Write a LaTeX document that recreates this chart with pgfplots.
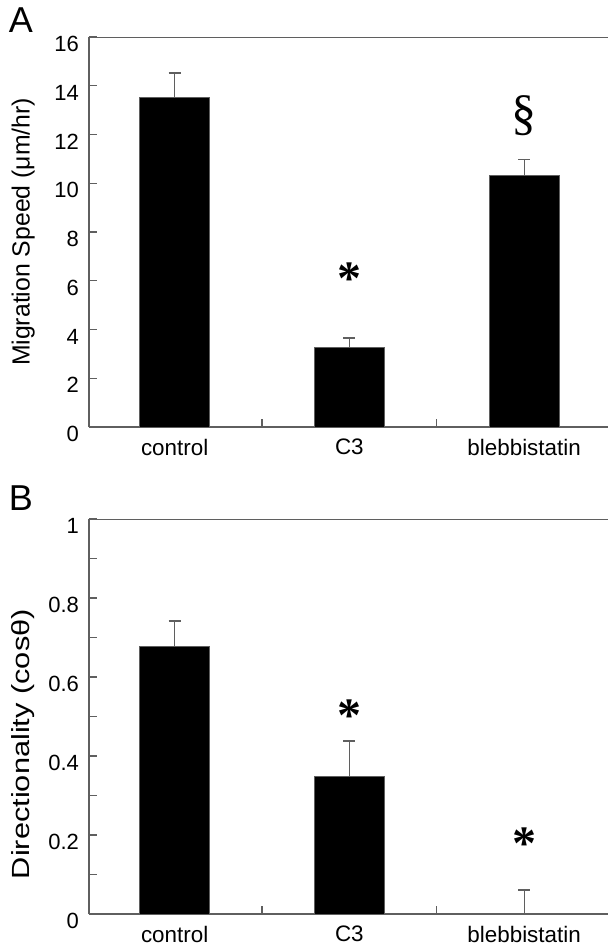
\documentclass[border=0pt]{standalone}
\usepackage{fontspec}
\setmainfont{Liberation Sans}
\newfontfamily\serif{Liberation Serif}
\usepackage{graphicx}
\usepackage{pgfplots}
\pgfplotsset{compat=1.18}
\definecolor{axgray}{RGB}{95,95,95}
\pgfplotsset{
 mystyle/.style={
  scale only axis, width=259.5pt,
  xmin=-0.49, xmax=2.48,
  axis x line*=bottom, axis y line*=left,
  axis line style={axgray, line width=0.6pt},
  tick align=inside,
  xtick={0,1,2}, xticklabels={control,C3,blebbistatin},
  major x tick style={draw=none},
  minor xtick={0.5,1.5},
  minor tick length=4pt, major tick length=3.8pt,
  every tick/.style={axgray, line width=0.6pt},
  /pgf/number format/assume math mode=true,
  yticklabel style={font=\fontsize{11}{12}\selectfont, yshift=-3.5pt, xshift=-1.5pt},
  xticklabel style={font=\fontsize{11.2}{12}\selectfont, yshift=-2.5pt},
  ylabel style={font=\fontsize{12.4}{14}\selectfont, at={(axis description cs:-0.127,0.5)}, anchor=center},
 },
 barstyle/.style={ybar, bar width=0.4, fill=black, draw=axgray, line width=0.5pt,
  error bars/.cd, y dir=plus, y explicit,
  error bar style={axgray, line width=0.6pt},
  error mark options={axgray, mark size=3pt, line width=0.6pt, rotate=90}},
 star/.style={draw=none, mark=none, nodes near coords, point meta=explicit symbolic,
  nodes near coords style={font=\serif\bfseries\fontsize{24}{24}\selectfont, anchor=base, yshift=-11.5pt, inner sep=0pt, text=black}},
 sect/.style={draw=none, mark=none, nodes near coords, point meta=explicit symbolic,
  nodes near coords style={font=\serif\fontsize{25}{25}\selectfont, anchor=base, yshift=-6.2pt, inner sep=0pt, text=black}},
}
\begin{document}
\begin{tikzpicture}
\path[use as bounding box] (0pt,0pt) rectangle (304pt,-474.5pt);
\begin{axis}[mystyle, at={(44.5pt,-213.5pt)}, anchor=south west, height=195pt,
  ymin=0, ymax=16, ytick={0,2,...,16},
  ylabel={Migration Speed (μm/hr)}]
\addplot[barstyle] coordinates {(0,13.5) +- (0,1.02) (1,3.28) +- (0,0.37) (2,10.3) +- (0,0.69)};
\addplot[star] coordinates {(1,6.36) [*]};
\addplot[sect] coordinates {(2,12.7) [§]};
\draw[axgray, line width=0.6pt] (rel axis cs:0,1) -- (rel axis cs:1,1);
\end{axis}
\begin{axis}[mystyle, at={(44.5pt,-457pt)}, anchor=south west, height=197.5pt,
  ymin=0, ymax=1, ytick={0,0.2,...,1}, minor ytick={0.1,0.3,0.5,0.7,0.9},
  ylabel style={at={(axis description cs:-0.127,0.43)}},
  ylabel={\scalebox{1.24}[1]{Directionality (cosθ)}}]
\addplot[barstyle] coordinates {(0,0.678) +- (0,0.064) (1,0.347) +- (0,0.091) (2,0) +- (0,0.061)};
\addplot[star] coordinates {(1,0.52) [*] (2,0.197) [*]};
\draw[axgray, line width=0.6pt] (rel axis cs:0,1) -- (rel axis cs:1,1);
\end{axis}
\node[font=\fontsize{18}{18}\selectfont] at (10.5pt,-10pt) {A};
\node[font=\fontsize{18}{18}\selectfont] at (10.5pt,-249pt) {B};
\end{tikzpicture}
\end{document}
